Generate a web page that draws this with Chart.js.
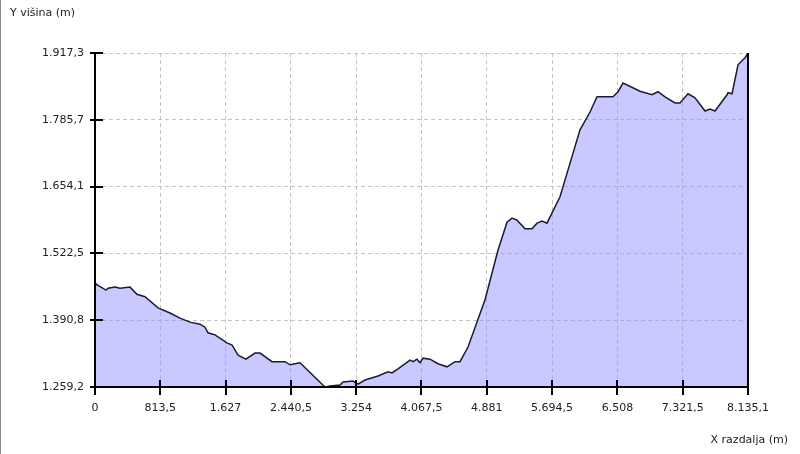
<!DOCTYPE html>
<html>
<head>
<meta charset="utf-8">
<script src="https://cdn.jsdelivr.net/npm/chart.js@4.4.1/dist/chart.umd.min.js"></script>
<style>
  html, body { margin: 0; padding: 0; background: #fff; }
  #wrap { width: 800px; height: 454px; position: relative; }
</style>
</head>
<body>
<div id="wrap"><canvas id="profile"></canvas></div>
<script>
// distance along the route (m) and elevation (m)
const distance = [0, 12, 137, 162, 249, 311, 436, 523, 623, 785, 934, 1059, 1184, 1308, 1370, 1408, 1495,
  1644, 1707, 1782, 1881, 1993, 2056, 2205, 2367, 2429, 2554, 2865, 2928, 3052, 3090, 3214, 3277, 3364,
  3526, 3650, 3700, 3775, 3924, 3962, 4011, 4049, 4086, 4173, 4273, 4385, 4485, 4547, 4647, 4859, 5021,
  5133, 5195, 5258, 5357, 5444, 5507, 5569, 5631, 5793, 5893, 6042, 6167, 6254, 6329, 6453, 6516, 6578,
  6790, 6939, 7014, 7101, 7226, 7288, 7388, 7475, 7600, 7662, 7724, 7874, 7886, 7936, 8011, 8098, 8135.1];
const elevation = [1464, 1462, 1450, 1454, 1456, 1454, 1456, 1442, 1437, 1415, 1405, 1395, 1387, 1383, 1377, 1366, 1362,
  1346, 1342, 1322, 1314, 1326, 1326, 1309, 1309, 1303, 1307, 1259.2, 1261, 1263, 1269, 1271, 1265, 1273,
  1281, 1289, 1287, 1295, 1312, 1309, 1314, 1307, 1316, 1314, 1305, 1299, 1309, 1309, 1338, 1431, 1529,
  1584, 1592, 1588, 1571, 1571, 1582, 1586, 1582, 1634, 1687, 1766, 1801, 1831, 1831, 1831, 1841, 1858,
  1842, 1835, 1841, 1831, 1819, 1819, 1837, 1829, 1803, 1807, 1803, 1835, 1839, 1837, 1894, 1908, 1917.3];

const xTicks = [0, 813.5, 1627, 2440.5, 3254, 4067.5, 4881, 5694.5, 6508, 7321.5, 8135.1];
const xTickLabels = ['0', '813,5', '1.627', '2.440,5', '3.254', '4.067,5', '4.881', '5.694,5', '6.508', '7.321,5', '8.135,1'];
const yTicks = [1259.2, 1390.8, 1522.5, 1654.1, 1785.7, 1917.3];
const yTickLabels = ['1.259,2', '1.390,8', '1.522,5', '1.654,1', '1.785,7', '1.917,3'];

const yTitle = 'Y višina (m)';
const xTitle = 'X razdalja (m)';

const FONT = '11px "DejaVu Sans", sans-serif';

// axis frame, crossing tick marks and the two axis titles
const framePlugin = {
  id: 'frame',
  afterDatasetsDraw(chart) {
    const { ctx, chartArea: a, scales } = chart;
    ctx.save();
    ctx.strokeStyle = '#000';
    ctx.lineWidth = 2;
    ctx.beginPath();
    ctx.moveTo(a.left, a.top); ctx.lineTo(a.left, a.bottom);
    ctx.lineTo(a.right, a.bottom);
    ctx.moveTo(a.right, scales.y.getPixelForValue(elevation[elevation.length - 1])); ctx.lineTo(a.right, a.bottom);
    xTicks.forEach(v => {
      const px = Math.round(scales.x.getPixelForValue(v));
      ctx.moveTo(px, a.bottom - 7); ctx.lineTo(px, a.bottom + 8);
    });
    yTicks.forEach(v => {
      const py = Math.round(scales.y.getPixelForValue(v));
      ctx.moveTo(a.left - 5, py); ctx.lineTo(a.left + 8, py);
    });
    ctx.stroke();

    // thin window edge on the left
    ctx.strokeStyle = '#8a8a8a';
    ctx.lineWidth = 1;
    ctx.beginPath();
    ctx.moveTo(0.5, 0); ctx.lineTo(0.5, chart.height);
    ctx.stroke();

    ctx.fillStyle = '#222';
    ctx.font = FONT;
    ctx.textBaseline = 'middle';
    ctx.textAlign = 'left';
    ctx.fillText(yTitle, 10, 13);
    ctx.textAlign = 'right';
    ctx.fillText(xTitle, 788, 440);
    ctx.restore();
  }
};

new Chart(document.getElementById('profile'), {
  type: 'line',
  data: {
    datasets: [{
      data: distance.map((d, i) => ({ x: d, y: elevation[i] })),
      borderColor: '#1b1b33',
      borderWidth: 1.5,
      backgroundColor: 'rgba(145,145,255,0.49)',
      fill: 'start',
      pointRadius: 0,
      tension: 0
    }]
  },
  options: {
    responsive: true,
    maintainAspectRatio: false,
    animation: false,
    layout: { padding: { top: 53, right: 52, left: 0, bottom: 0 } },
    plugins: { legend: { display: false }, tooltip: { enabled: false } },
    scales: {
      x: {
        type: 'linear',
        min: 0,
        max: 8135.1,
        afterBuildTicks: s => { s.ticks = xTicks.map(v => ({ value: v })); },
        afterFit: s => { s.height = 67; },
        grid: { color: '#c4c4c4', drawTicks: false, tickBorderDash: [4, 3] },
        border: { display: false, dash: [4, 3] },
        ticks: {
          font: { family: '"DejaVu Sans", sans-serif', size: 11 },
          color: '#222',
          padding: 15,
          maxRotation: 0,
          autoSkip: false,
          callback: (v, i) => xTickLabels[i]
        }
      },
      y: {
        type: 'linear',
        min: 1259.2,
        max: 1917.3,
        afterBuildTicks: s => { s.ticks = yTicks.map(v => ({ value: v })); },
        afterFit: s => { s.width = 95; },
        grid: { color: '#c4c4c4', drawTicks: false },
        border: { display: false, dash: [4, 3] },
        ticks: {
          font: { family: '"DejaVu Sans", sans-serif', size: 11 },
          color: '#222',
          padding: 11,
          autoSkip: false,
          callback: (v, i) => yTickLabels[i]
        }
      }
    }
  },
  plugins: [framePlugin]
});
</script>
</body>
</html>
